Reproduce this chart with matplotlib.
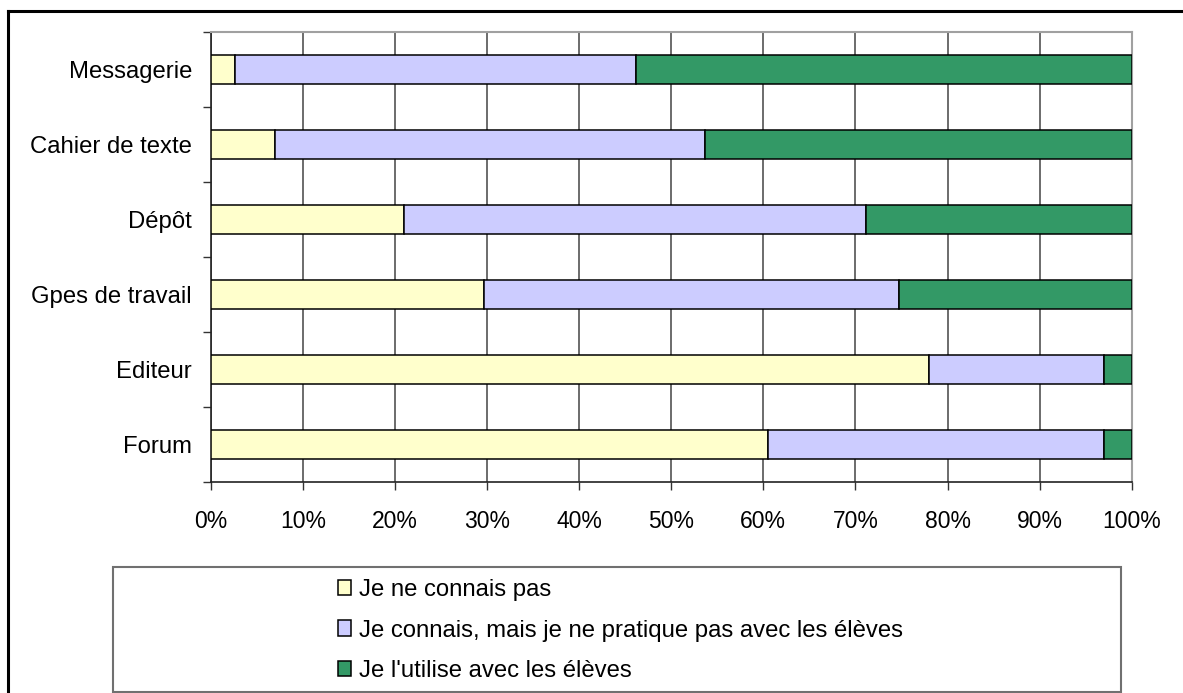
import matplotlib
matplotlib.use("Agg")
import matplotlib.pyplot as plt
from matplotlib.patches import Rectangle
from matplotlib.lines import Line2D
import numpy as np

categories = ["Messagerie", "Cahier de texte", "Dépôt", "Gpes de travail", "Editeur", "Forum"]
series_names = ["Je ne connais pas",
                "Je connais, mais je ne pratique pas avec les élèves",
                "Je l'utilise avec les élèves"]
ne_connais_pas = [2.6, 7.0, 21.0, 29.7, 78.0, 60.5]
connais_pas_pratique = [43.6, 46.7, 50.2, 45.0, 19.0, 36.5]
utilise = [53.8, 46.3, 28.8, 25.3, 3.0, 3.0]
xticks = [0, 10, 20, 30, 40, 50, 60, 70, 80, 90, 100]
xticklabels = [f"{v}%" for v in xticks]

colors = ["#FFFFCC", "#CCCCFF", "#339966"]

plt.rcParams['font.family'] = ['Liberation Sans', 'DejaVu Sans']

W, H = 1183, 693
fig = plt.figure(figsize=(W / 100, H / 100), dpi=100)

ax_l, ax_r, ax_t, ax_b = 210.7, 1131.7, 32, 482
ax = fig.add_axes([ax_l / W, 1 - ax_b / H, (ax_r - ax_l) / W, (ax_b - ax_t) / H])

y = np.arange(len(categories))[::-1]
left = np.zeros(len(categories))
handles = []
for vals, col, name in zip([ne_connais_pas, connais_pas_pratique, utilise], colors, series_names):
    b = ax.barh(y, vals, left=left, height=0.39, color=col, edgecolor="black",
                linewidth=1.1, label=name, zorder=3)
    handles.append(b)
    left = left + np.array(vals)

ax.set_xlim(0, 100)
ax.set_ylim(-0.5, len(categories) - 0.5)

ax.set_xticks(xticks)
ax.set_xticklabels(xticklabels, fontsize=16.5)
ax.tick_params(axis='x', direction='out', length=6, width=1, color='#333333', pad=14)
ax.xaxis.grid(True, color='#444444', linewidth=1.1, zorder=0)

ax.set_yticks(np.arange(-0.5, len(categories), 1.0))
ax.set_yticklabels([])
ax.set_yticks(y, minor=True)
ax.set_yticklabels(categories, minor=True, fontsize=17.2)
ax.tick_params(axis='y', which='major', direction='out', length=6, width=1, color='#333333')
ax.tick_params(axis='y', which='minor', length=0, pad=13.5)

for s in ['top', 'right']:
    ax.spines[s].set_color('#a0a0a0')
    ax.spines[s].set_linewidth(1.5)
for s in ['left', 'bottom']:
    ax.spines[s].set_color('#222222')
    ax.spines[s].set_linewidth(1.2)

# outer frame (top and left edges visible)
fig.add_artist(Line2D([8 / W, 1.0], [1 - 11 / H, 1 - 11 / H], color='black', linewidth=2.2,
                      transform=fig.transFigure))
fig.add_artist(Line2D([8 / W, 8 / W], [1 - 11 / H, 0.0], color='black', linewidth=2.2,
                      transform=fig.transFigure))

# legend box
lb_l, lb_r, lb_t, lb_b = 113, 1121, 567, 692
fig.add_artist(Rectangle((lb_l / W, 1 - lb_b / H), (lb_r - lb_l) / W, (lb_b - lb_t) / H,
                         transform=fig.transFigure, facecolor='white', edgecolor='#707070',
                         linewidth=1.5))
leg = fig.legend(handles=handles, labels=series_names, loc='center',
                 bbox_to_anchor=((lb_l + lb_r) / 2 / W + 0.003, 1 - (lb_t + lb_b + 2) / 2 / H),
                 frameon=False, fontsize=17.2, handlelength=0.55, handleheight=0.6,
                 handletextpad=0.35, labelspacing=0.78)

fig.savefig("out.png", dpi=100)
